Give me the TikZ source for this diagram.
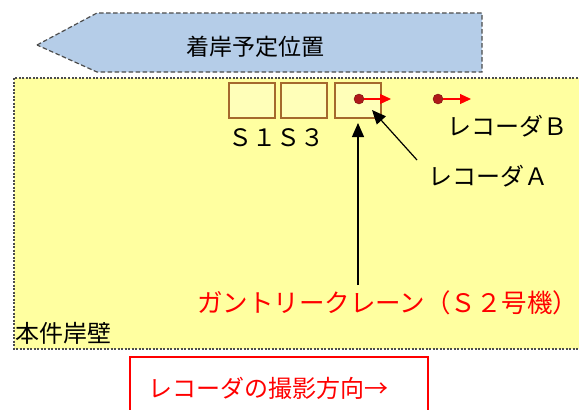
\documentclass[tikz,border=0pt]{standalone}
\usepackage{fontspec}
\setmainfont{Noto Sans CJK JP}
\usetikzlibrary{arrows.meta}
\definecolor{shipblue}{RGB}{181,205,232}
\definecolor{quay}{RGB}{255,255,160}
\definecolor{boxfill}{RGB}{255,255,185}
\definecolor{cranebrown}{RGB}{165,105,45}
\definecolor{dotred}{RGB}{175,25,25}
\begin{document}
\begin{tikzpicture}[x=1pt,y=-1pt,
  jp/.style={inner sep=0pt, font=\fontsize{24}{24}\selectfont},
  outline/.style={draw=black!70, line width=1.2pt},
  cbox/.style={draw=cranebrown, line width=2pt, fill=boxfill, minimum width=46pt, minimum height=35pt, inner sep=0pt},
  recdot/.style={circle, fill=dotred, draw=dotred!70!black, minimum size=10pt, inner sep=0pt},
  redarr/.style={draw=red, line width=1.2pt, -{Triangle[length=11pt,width=10pt]}},
  blkarr/.style={draw=black, line width=1.2pt, -{Triangle[length=14pt,width=12pt]}}]
\useasboundingbox (0,0) rectangle (579,410);
\fill[white] (0,0) rectangle (579,410);
% quay
\draw[outline, dash pattern=on 2pt off 1.5pt, fill=quay] (14,78) rectangle (590,349);
% ship position
\draw[outline, dash pattern=on 4.5pt off 2.5pt, fill=shipblue] (37,45) -- (97,13) -- (482,13) -- (482,72) -- (97,72) -- cycle;
\node[jp, font=\fontsize{23}{23}\selectfont] (title) at (255,47) {着岸予定位置};
% crane boxes
\node[cbox] (s1) at (251.5,100.5) {};
\node[cbox] (s2) at (303.5,100.5) {};
\node[cbox] (s3) at (358,100.5) {};
\node[jp, anchor=west] (slab) at (228,138) {Ｓ１Ｓ３};
% recorders
\coordinate (ratip) at (391,99);
\coordinate (rbtip) at (471,99);
\node[recdot] (ra) at (359,99) {};
\node[recdot] (rb) at (438,99) {};
\draw[redarr] (ra.east) -- (ratip);
\draw[redarr] (rb.east) -- (rbtip);
\node[jp, anchor=west] (lb) at (447,126) {レコーダＢ};
\node[jp, anchor=west] (la) at (428,176) {レコーダＡ};
\coordinate (lafrom) at (417,160);
\coordinate (latip) at (372,110);
\draw[blkarr] (lafrom) -- (latip);
% crane label
\node[jp, anchor=west, text=red, font=\fontsize{25.5}{25.5}\selectfont] (crane) at (197,303) {ガントリークレーン（Ｓ２号機）};
\coordinate (cranefrom) at (358,285);
\draw[blkarr] (cranefrom) -- ([yshift=-4pt]s3.south);
\node[jp, anchor=west] (quayname) at (15,333) {本件岸壁};
% legend
\draw[red, line width=1.2pt] (130,357) rectangle (428,420);
\node[jp, anchor=west, text=red] (legend) at (148,388) {レコーダの撮影方向→};
\end{tikzpicture}
\end{document}
